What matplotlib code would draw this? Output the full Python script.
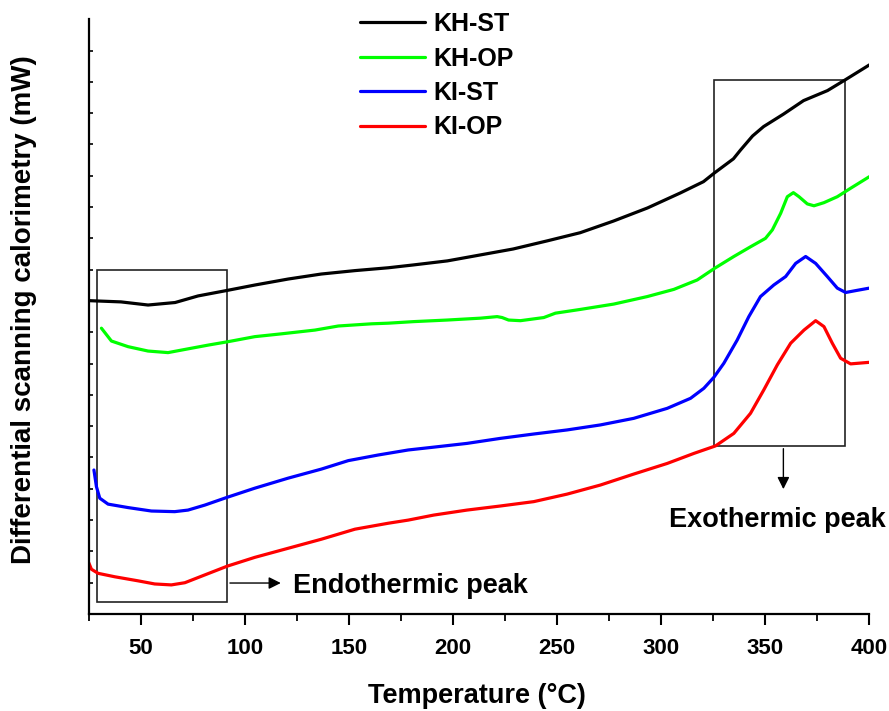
import numpy as np
import matplotlib
matplotlib.use("Agg")
import matplotlib.pyplot as plt
from matplotlib.patches import Rectangle


plt.rcParams["font.family"] = ["Liberation Sans", "DejaVu Sans"]
plt.rcParams["font.weight"] = "bold"

labels = ["KH-ST", "KH-OP", "KI-ST", "KI-OP"]
colors = ["#000000", "#00ff00", "#0000ff", "#ff0000"]

# temperature (C) / heat flow (arbitrary mW units)
kh_st_t = [25, 40.5, 53.5, 66.5, 77.5, 91.0, 104.9, 120.8, 136.7, 153.0, 168.9, 180.9,
           197.3, 213.1, 228.9, 245.3, 261.1, 277.0, 293.4, 309.2, 320.3, 325.6, 334.7,
           338.1, 343.9, 349.2, 358.8, 368.4, 379.9, 388.1, 400]
kh_st_y = [10.01, 9.97, 9.87, 9.95, 10.16, 10.33, 10.51, 10.70, 10.86, 10.97, 11.06, 11.15,
           11.28, 11.47, 11.66, 11.92, 12.18, 12.55, 12.97, 13.45, 13.81, 14.09, 14.54,
           14.82, 15.27, 15.57, 15.97, 16.40, 16.72, 17.05, 17.54]

kh_op_t = [31.1, 35.9, 43.9, 53.5, 63.1, 72.7, 82.4, 92.0, 104.8, 117.6, 133.7, 144.9,
           160.9, 168.9, 181.1, 197.1, 213.1, 221.2, 223.6, 226.7, 232.4, 243.6, 249.2,
           261.2, 277.2, 293.3, 306.1, 317.3, 325.6, 334.9, 342.9, 350.1, 353.4, 357.4,
           360.6, 363.5, 366.2, 370.2, 373.4, 378.2, 384.6, 391.0, 400]
kh_op_y = [9.13, 8.72, 8.54, 8.40, 8.35, 8.47, 8.59, 8.70, 8.86, 8.95, 9.07, 9.20,
           9.27, 9.29, 9.34, 9.39, 9.45, 9.50, 9.47, 9.39, 9.37, 9.47, 9.61,
           9.73, 9.90, 10.14, 10.37, 10.67, 11.04, 11.42, 11.73, 12.00, 12.27, 12.80,
           13.33, 13.46, 13.33, 13.10, 13.04, 13.14, 13.33, 13.60, 13.97]

ki_st_t = [27.5, 28.7, 30.3, 34.3, 43.9, 55.1, 66.3, 72.7, 80.8, 91.6, 104.8, 120.8,
           136.8, 149.7, 164.1, 178.5, 190.7, 206.7, 222.7, 238.8, 254.8, 270.8, 286.8,
           302.9, 314.1, 320.5, 325.3, 330.1, 336.5, 342.1, 347.7, 354.1, 359.8, 364.6,
           369.4, 374.2, 379.8, 384.6, 388.6, 393.4, 400]
ki_st_y = [4.60, 4.07, 3.70, 3.51, 3.40, 3.29, 3.27, 3.32, 3.48, 3.73, 4.02, 4.34,
           4.63, 4.90, 5.08, 5.24, 5.33, 5.45, 5.61, 5.75, 5.88, 6.04, 6.25,
           6.57, 6.89, 7.21, 7.56, 8.01, 8.75, 9.50, 10.14, 10.51, 10.78, 11.20,
           11.42, 11.20, 10.78, 10.41, 10.27, 10.33, 10.41]

ki_op_t = [25, 26.3, 29.5, 37.5, 48.7, 56.7, 64.7, 71.2, 80.8, 91.6, 104.8, 120.8,
           136.8, 152.9, 168.9, 178.5, 190.7, 206.7, 222.7, 238.8, 254.8, 270.8, 286.8,
           302.9, 315.7, 326.1, 334.9, 342.9, 349.3, 355.8, 362.2, 368.6, 374.2, 378.2,
           382.2, 386.2, 391.0, 400]
ki_op_y = [1.64, 1.43, 1.30, 1.19, 1.06, 0.96, 0.93, 1.00, 1.25, 1.53, 1.81, 2.10,
           2.39, 2.71, 2.90, 3.00, 3.16, 3.32, 3.45, 3.59, 3.83, 4.12, 4.47,
           4.81, 5.13, 5.37, 5.77, 6.41, 7.16, 7.96, 8.65, 9.07, 9.37, 9.18,
           8.65, 8.17, 7.99, 8.04]

x_ticks = [50, 100, 150, 200, 250, 300, 350, 400]


def draw_curves(ax):
    series = [(kh_st_t, kh_st_y), (kh_op_t, kh_op_y), (ki_st_t, ki_st_y), (ki_op_t, ki_op_y)]
    for (t, y), lab, c in zip(series, labels, colors):
        ax.plot(t, y, color=c, lw=2.3, label=lab, solid_capstyle="round",
                solid_joinstyle="round")


def draw_annotations(ax):
    # endothermic box + arrow
    ax.add_patch(Rectangle((28.85, 0.38), 91.5 - 28.85, 10.99 - 0.38,
                           fill=False, ec="#222222", lw=1.2))
    ax.annotate("", xy=(118.6, 0.99), xytext=(91.5, 0.99),
                arrowprops=dict(arrowstyle="-|>", lw=1.0, color="black", mutation_scale=18))
    ax.text(123.2, 0.67, "Endothermic peak", fontsize=19.5, fontweight="bold",
            ha="left", va="baseline")
    # exothermic box + arrow
    ax.add_patch(Rectangle((325.6, 5.37), 388.1 - 325.6, 17.06 - 5.37,
                           fill=False, ec="#222222", lw=1.2))
    ax.annotate("", xy=(358.7, 3.9), xytext=(358.7, 5.37),
                arrowprops=dict(arrowstyle="-|>", lw=1.0, color="black", mutation_scale=18))
    ax.text(355.7, 2.78, "Exothermic peak", fontsize=19.5, fontweight="bold",
            ha="center", va="baseline")


if __name__ == "__main__":
    fig = plt.figure(figsize=(8.89, 7.11), dpi=100)
    ax = fig.add_axes([0.0998, 0.1364, 0.8781, 0.8366])

    draw_curves(ax)
    draw_annotations(ax)

    ax.set_xlim(25, 400)
    ax.set_ylim(0, 19)
    ax.set_xticks(x_ticks)
    ax.set_xticks(np.arange(25, 401, 50), minor=True)
    ax.set_yticks(np.arange(0, 19, 1))
    ax.set_yticklabels([])
    ax.spines["top"].set_visible(False)
    ax.spines["right"].set_visible(False)
    ax.spines["left"].set_linewidth(1.6)
    ax.spines["bottom"].set_linewidth(1.6)
    ax.tick_params(axis="x", which="major", direction="out", length=8, width=1.5,
                   labelsize=16, pad=9)
    ax.tick_params(axis="x", which="minor", direction="out", length=5, width=1.3)
    ax.tick_params(axis="y", which="major", direction="in", length=3, width=1.2)
    for lab in ax.get_xticklabels():
        lab.set_fontweight("bold")

    fig.text(477 / 889, 8 / 711, "Temperature (\u00b0C)", fontsize=19.5, fontweight="bold",
             ha="center", va="baseline")
    fig.text(24 / 889, 1 - 310 / 711, "Differential scanning calorimetry (mW)",
             fontsize=20, fontweight="bold", rotation=90, ha="center", va="center")

    leg = ax.legend(loc="upper left", bbox_to_anchor=(360 / 889, 1 - 12 / 711),
                    bbox_transform=fig.transFigure, frameon=False, fontsize=18,
                    handlelength=2.6, handletextpad=0.35, labelspacing=0.42,
                    borderpad=0, borderaxespad=0)
    for txt in leg.get_texts():
        txt.set_fontweight("bold")

    fig.savefig("out.png", dpi=100)
